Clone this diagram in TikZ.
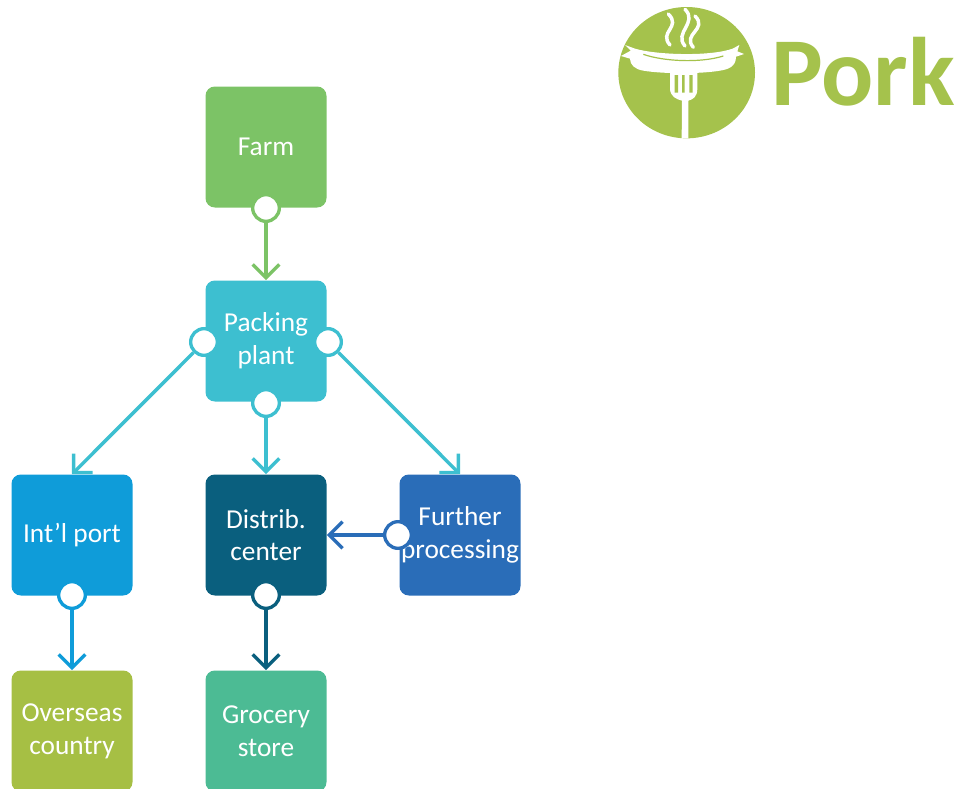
\documentclass[tikz,border=0pt]{standalone}
\usepackage{fontspec}
\setmainfont{Carlito}
\usepackage{tikz}
\usetikzlibrary{arrows.meta}
\definecolor{porkgreen}{HTML}{A5C24C}
\definecolor{farmcol}{HTML}{7CC366}
\definecolor{packcol}{HTML}{3DBFD0}
\definecolor{portcol}{HTML}{0F9CD9}
\definecolor{distcol}{HTML}{0A5F7E}
\definecolor{furthercol}{HTML}{2A6DB8}
\definecolor{overseascol}{HTML}{A6BF44}
\definecolor{grocerycol}{HTML}{4CBB94}

\begin{document}
\begin{tikzpicture}[x=0.75pt,y=-0.75pt,
  box/.style={rectangle,fill=#1,rounded corners=7pt,minimum size=90.75pt,inner sep=0pt,
    text=white,align=center,font=\fontsize{20.5}{24.5}\selectfont},
  knob/.style={circle,fill=white,draw=#1,line width=2.5pt,minimum size=20pt,inner sep=0pt},
  link/.style={draw=#1,line width=2.6pt,-{Straight Barb[length=10pt,width=20pt,line width=2.6pt]}}]
\useasboundingbox (0,0) rectangle (961,789);

\node [box=farmcol] (farm) at (266,147) {Farm};
\node [box=packcol] (packing) at (266,341) {Packing\\plant};
\node [box=portcol] (intl) at (72,535) {Int'l port};
\node [box=distcol] (distrib) at (266,535) {Distrib.\\center};
\node [box=furthercol] (further) at (460,535) {Further\\processing};
\node [box=overseascol] (overseas) at (72,731) {Overseas\\country};
\node [box=grocerycol] (grocery) at (266,731) {Grocery\\store};

\node [knob=farmcol] (farmout) at (266,208) {};
\node [knob=packcol] (packleft) at (204,342) {};
\node [knob=packcol] (packright) at (328,342) {};
\node [knob=packcol] (packdown) at (266,403) {};
\node [knob=portcol] (intlout) at (72,595) {};
\node [knob=distcol] (distout) at (266,595) {};
\node [knob=furthercol] (furtherout) at (398,535) {};

\draw [link=farmcol] (farmout) -- (packing.north);
\draw [link=packcol] (packleft) -- (intl.north);
\draw [link=packcol] (packdown) -- (distrib.north);
\draw [link=packcol] (packright) -- (further.north);
\draw [link=furthercol] (furtherout) -- (distrib.east);
\draw [link=portcol] (intlout) -- (overseas.north);
\draw [link=distcol] (distout) -- (grocery.north);

% logo
\begin{scope}[xshift=450pt,x=0.25pt,y=-0.25pt]
\fill [porkgreen] (260,218) ellipse [x radius=205,y radius=197];
% steam
\foreach \sx/\sy/\ex/\ey in {205/42/210/135,255/28/255/138,285/48/280/142}
  \draw [white,line width=2.6pt,line cap=round] (\sx,\sy) .. controls (\sx+40,\sy+40) and (\ex-35,\ey-40) .. (\ex,\ey);
% fork
\fill [white] (210,218) -- (210,265) .. controls (210,290) and (230,298) .. (246,302)
  -- (245,415) -- (265,415) -- (265,302) .. controls (280,298) and (292,290) .. (292,265) -- (292,218) -- cycle;
\fill [porkgreen] (224,225) rectangle (234,278) (246,225) rectangle (254,278) (268,225) rectangle (278,278);
% sausage
\fill [white] (92,152) -- (75,135) -- (105,146) .. controls (170,165) and (330,170) .. (398,146)
  -- (418,135) -- (412,154) -- (432,162) -- (408,170)
  .. controls (408,200) and (385,208) .. (360,212) .. controls (300,222) and (190,222) .. (130,212)
  .. controls (105,208) and (90,195) .. (90,176) -- (63,168) -- cycle;
\draw [porkgreen,line width=0.9pt] (130,163) .. controls (190,184) and (300,190) .. (370,168);
\end{scope}

\node [anchor=base west,inner sep=0pt,text=porkgreen,font=\fontsize{73}{73}\selectfont\bfseries] (pork) at (771,105) {Pork};
\end{tikzpicture}
\end{document}
